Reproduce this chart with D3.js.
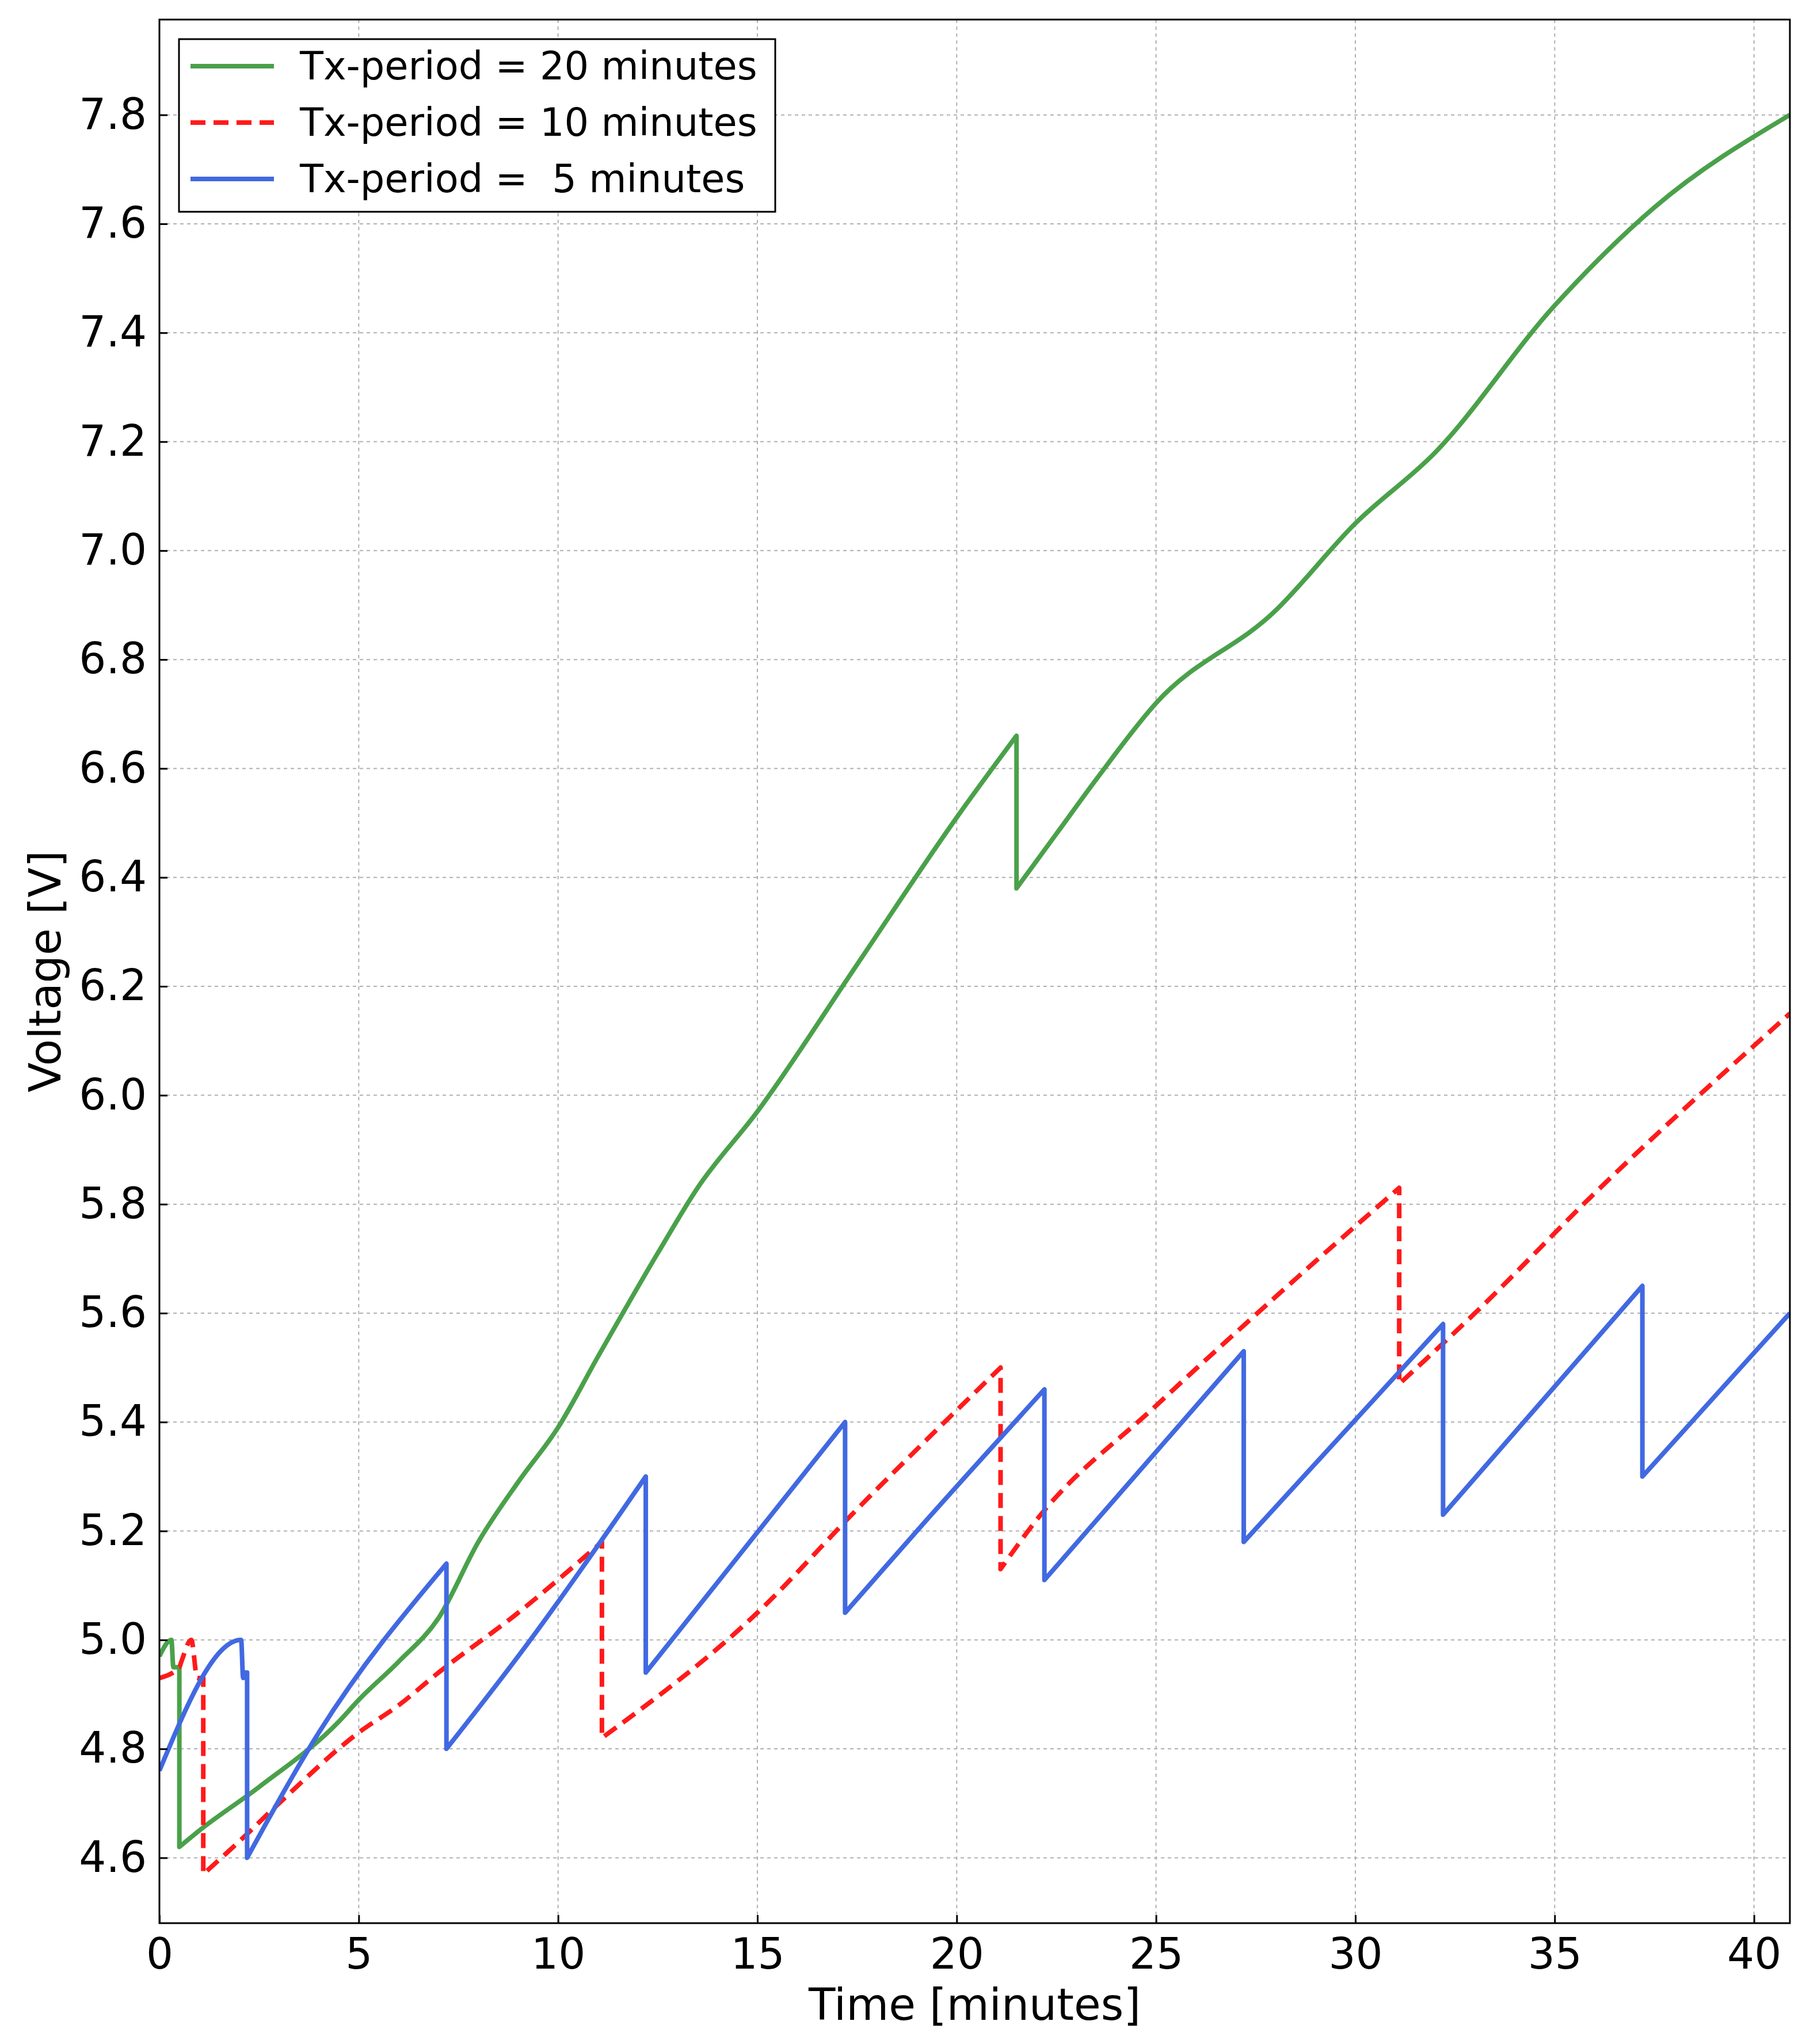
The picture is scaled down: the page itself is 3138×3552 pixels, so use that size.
<!DOCTYPE html><html><head><script src="https://cdn.jsdelivr.net/npm/d3@7"></script>
<style>body{margin:0;background:#fff}</style></head><body><svg id="c" width="3138" height="3552"></svg><script>
const xTicks=[0,5,10,15,20,25,30,35,40];
const yTicks=[4.6,4.8,5.0,5.2,5.4,5.6,5.8,6.0,6.2,6.4,6.6,6.8,7.0,7.2,7.4,7.6,7.8];
const greenT=[0,0.3,0.35,0.5,0.5,1,2.5,4.5,5,6,7,8,9,10,11,12.5,13.5,15,17.5,20,21.5,21.5,22.5,23.5,25,28,30,32,35,37.5,40.9];
const greenV=[4.97,5.0,4.95,4.95,4.62,4.65,4.73,4.85,4.89,4.96,5.04,5.18,5.29,5.39,5.52,5.71,5.83,5.97,6.24,6.51,6.66,6.38,6.48,6.58,6.72,6.89,7.05,7.18,7.45,7.63,7.8];
const redT=[0,0.5,0.55,0.8,0.95,1.1,1.1,2,3,5,6,7,9,11.1,11.1,15,17.5,21.1,21.1,22,25,28,31.1,31.1,33,36,40.9];
const redV=[4.93,4.95,4.96,5.0,4.93,4.93,4.57,4.63,4.7,4.83,4.88,4.94,5.05,5.18,4.82,5.05,5.24,5.5,5.13,5.22,5.43,5.63,5.83,5.47,5.6,5.82,6.15];
const blueT=[0,2.05,2.1,2.15,2.2,2.2,4,7.2,7.2,9,12.2,12.2,17.2,17.2,19,22.2,22.2,27.2,27.2,32.2,32.2,37.2,37.2,40.9];
const blueV=[4.76,5.0,4.93,4.94,4.94,4.60,4.83,5.14,4.80,4.97,5.3,4.94,5.4,5.05,5.2,5.46,5.11,5.53,5.18,5.58,5.23,5.65,5.3,5.6];
const series=[{n:"Tx-period = 20 minutes",t:greenT,v:greenV,c:"#4aa14a",d:null},
{n:"Tx-period = 10 minutes",t:redT,v:redV,c:"#ff1a1a",d:"26,14"},
{n:"Tx-period =  5 minutes",t:blueT,v:blueV,c:"#4169e1",d:null}];
const L=277,R=3110,T=34,B=3342;
const x=d3.scaleLinear().domain([0,40.9]).range([L,R]);
const y=d3.scaleLinear().domain([4.48,7.975]).range([B,T]);
const svg=d3.select("#c");const F="DejaVu Sans";
const g=svg.append("g");
xTicks.forEach(t=>g.append("line").attr("x1",x(t)).attr("x2",x(t)).attr("y1",T).attr("y2",B).attr("stroke","#b0b0b0").attr("stroke-width",2).attr("stroke-dasharray","6,6"));
yTicks.forEach(t=>g.append("line").attr("y1",y(t)).attr("y2",y(t)).attr("x1",L).attr("x2",R).attr("stroke","#b0b0b0").attr("stroke-width",2).attr("stroke-dasharray","6,6"));
svg.append("clipPath").attr("id","cp").append("rect").attr("x",L).attr("y",T).attr("width",R-L).attr("height",B-T);
const lg=d3.line().x(d=>x(d[0])).y(d=>y(d[1])).curve(d3.curveMonotoneX);
series.forEach(s=>{const segs=[[]];
s.t.forEach((t,i)=>{if(i>0&&t===s.t[i-1])segs.push([]);segs[segs.length-1].push([t,s.v[i]]);});
const dstr=segs.map((sg,k)=>{let p=lg(sg);return k>0?"L"+p.slice(1):p;}).join("");
svg.append("path").attr("clip-path","url(#cp)").attr("d",dstr).attr("fill","none").attr("stroke",s.c).attr("stroke-width",8).attr("stroke-linejoin","round").attr("stroke-dasharray",s.d);});
const xa=svg.append("g").attr("transform",`translate(0,${B})`).call(d3.axisBottom(x).tickValues(xTicks).tickSizeInner(-14).tickSizeOuter(0).tickPadding(26));
const ya=svg.append("g").attr("transform",`translate(${L},0)`).call(d3.axisLeft(y).tickValues(yTicks).tickFormat(d3.format(".1f")).tickSizeInner(-14).tickSizeOuter(0).tickPadding(22));
[xa,ya].forEach(a=>{a.selectAll("text").attr("font-family",F).attr("font-size",74).attr("fill","#000");a.selectAll("line").attr("stroke-width",3);a.select(".domain").remove();});
svg.append("rect").attr("x",L).attr("y",T).attr("width",R-L).attr("height",B-T).attr("fill","none").attr("stroke","#000").attr("stroke-width",3);
svg.append("text").attr("x",(L+R)/2).attr("y",3510).attr("text-anchor","middle").attr("font-family",F).attr("font-size",76).text("Time [minutes]");
svg.append("text").attr("transform",`translate(105,${(T+B)/2}) rotate(-90)`).attr("text-anchor","middle").attr("font-family",F).attr("font-size",76).text("Voltage [V]");
const lx=311,ly=68;
svg.append("rect").attr("x",lx).attr("y",ly).attr("width",1036).attr("height",300).attr("fill","#fff").attr("stroke","#000").attr("stroke-width",3);
series.forEach((s,i)=>{const yy=ly+47+i*98;
svg.append("line").attr("x1",lx+20).attr("x2",lx+165).attr("y1",yy).attr("y2",yy).attr("stroke",s.c).attr("stroke-width",8).attr("stroke-dasharray",s.d);
svg.append("text").attr("x",lx+210).attr("y",yy+23).attr("font-family",F).attr("font-size",67).attr("xml:space","preserve").style("white-space","pre").text(s.n);});
</script></body></html>
